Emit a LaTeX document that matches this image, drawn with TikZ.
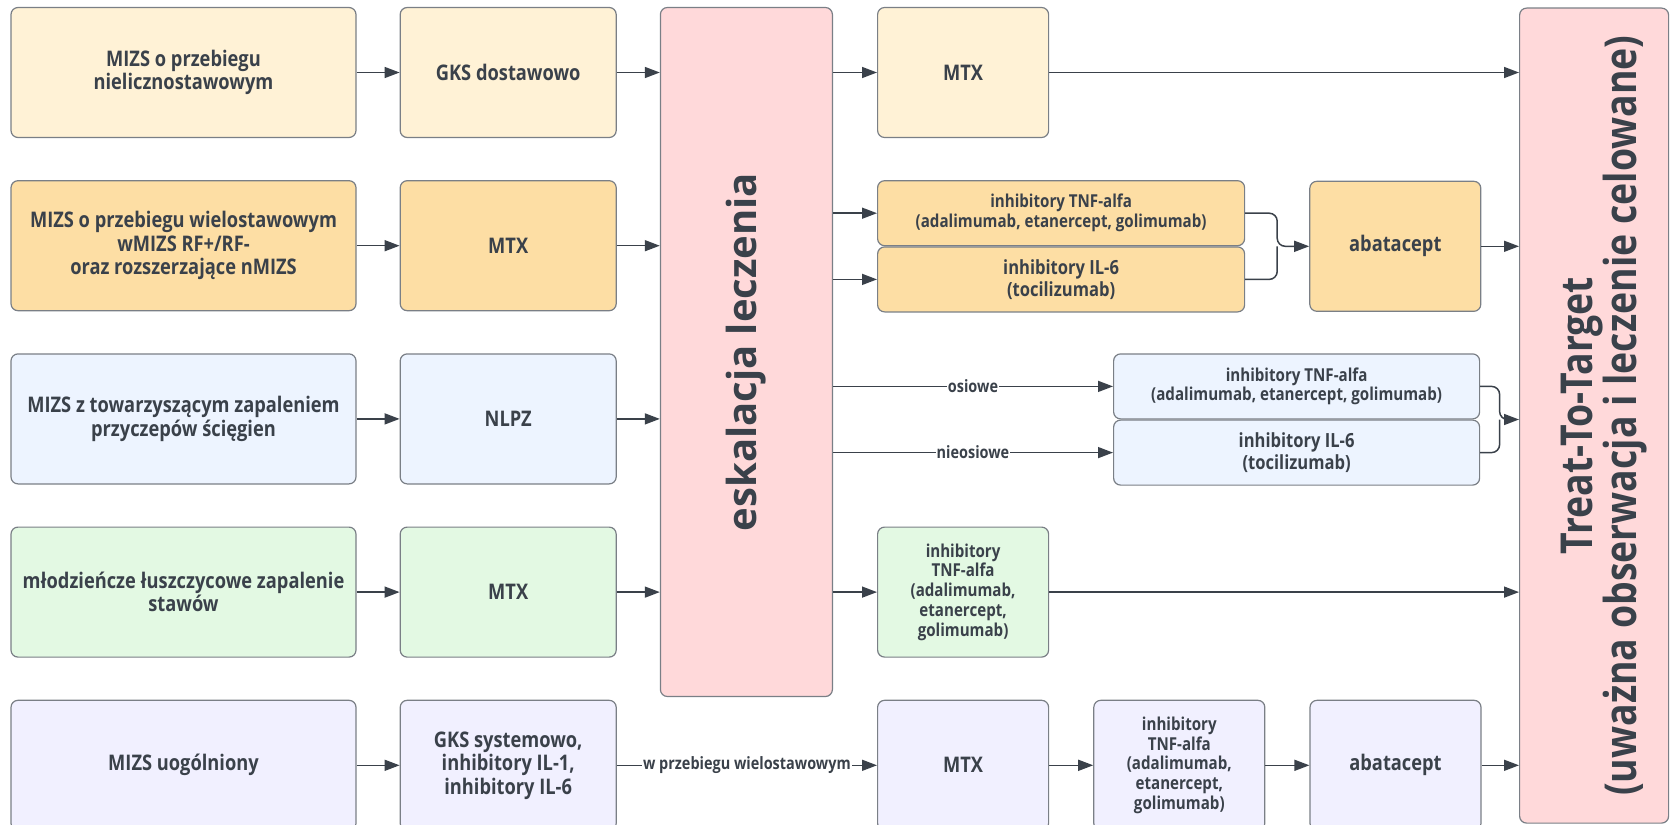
\documentclass[tikz,border=0pt]{standalone}
\usepackage{fontspec}
\setmainfont{Open Sans}[FakeStretch=0.85]
\newfontfamily\wideface{Open Sans}
\usetikzlibrary{arrows.meta,calc,positioning}
\definecolor{ink}{HTML}{3A414A}
\definecolor{edge}{HTML}{7A7F86}
\definecolor{creme}{HTML}{FFF2D6}
\definecolor{orng}{HTML}{FDDEA4}
\definecolor{lblue}{HTML}{EDF4FF}
\definecolor{lgreen}{HTML}{E3F9E3}
\definecolor{lilac}{HTML}{F1F0FF}
\definecolor{pink}{HTML}{FFD9DA}
\tikzstyle{box}=[rectangle,rounded corners=7pt,draw=edge,line width=1.2pt,text=ink,align=center,inner sep=3pt,minimum height=130pt,font=\bfseries\fontsize{21.5}{23.5}\selectfont]
\tikzstyle{sm}=[font=\bfseries\fontsize{17.8}{19.8}\selectfont]
\tikzstyle{md}=[font=\bfseries\fontsize{19.5}{22}\selectfont]
\tikzstyle{yb}=[box,fill=creme]
\tikzstyle{ob}=[box,fill=orng]
\tikzstyle{bb}=[box,fill=lblue]
\tikzstyle{gb}=[box,fill=lgreen]
\tikzstyle{vb}=[box,fill=lilac]
\tikzstyle{rb}=[box,fill=pink]
\tikzstyle{ln}=[line width=1.5pt,draw=ink]
\tikzstyle{arr}=[ln,-{Triangle[length=15pt,width=11pt]}]
\tikzstyle{lbl}=[fill=white,inner sep=1pt,text=ink,font=\bfseries\fontsize{17}{19}\selectfont]

\begin{document}
\begin{tikzpicture}[x=1pt,y=1pt]
    \useasboundingbox (0,0) rectangle (1677,-824);
    % row 1
    \node (olig) [yb,minimum width=345pt] at (183.5,-72.5) {MIZS o przebiegu\\nielicznostawowym};
    \node (gksd) [yb,minimum width=216pt,right=43pt of olig] {GKS dostawowo};
    \node (esk) [rb,minimum width=172pt,minimum height=689pt,anchor=north west] at ($(gksd.north east)+(43,0)$) {};
    \node (eskt) [rotate=90,text=ink,font=\wideface\bfseries\fontsize{40}{44}\selectfont] at (esk.center) {eskalacja leczenia};
    \node (mtxa) [yb,minimum width=171pt,anchor=west] at ($(gksd.east -| esk.east)+(44,0)$) {MTX};
    \node (t2t) [rb,minimum width=149pt,minimum height=815pt,anchor=north west] at (1519,-7.5) {};
    \node (t2tt) [rotate=90,text=ink,align=center,font=\bfseries\fontsize{44}{44}\selectfont] at ($(t2t.center)+(10,0)$) {Treat-To-Target\\(uważna obserwacja i leczenie celowane)};
    % row 2
    \node (poly) [ob,minimum width=345pt,below=42pt of olig] {MIZS o przebiegu wielostawowym\\wMIZS RF+/RF-\\oraz rozszerzające nMIZS};
    \node (mtxb) [ob,minimum width=216pt,below=42pt of gksd] {MTX};
    \node (tnfb) [ob,sm,minimum width=367pt,minimum height=65pt,anchor=north west] at ($(poly.north -| esk.east)+(44,0)$) {inhibitory TNF-alfa\\(adalimumab, etanercept, golimumab)};
    \node (ilb) [ob,md,minimum width=367pt,minimum height=65pt,below=0pt of tnfb] {inhibitory IL-6\\(tocilizumab)};
    \node (abab) [ob,minimum width=171pt,anchor=west] at ($(tnfb.south east)+(64,0)$) {abatacept};
    % row 3
    \node (ent) [bb,minimum width=345pt,below=42pt of poly] {MIZS z towarzyszącym zapaleniem\\przyczepów ścięgien};
    \node (nlpz) [bb,minimum width=216pt,below=42pt of mtxb] {NLPZ};
    \node (tnfc) [bb,sm,minimum width=366pt,minimum height=65pt,anchor=north west] at ($(ent.north -| esk.east)+(280,0)$) {inhibitory TNF-alfa\\(adalimumab, etanercept, golimumab)};
    \node (ilc) [bb,md,minimum width=366pt,minimum height=65pt,below=0pt of tnfc] {inhibitory IL-6\\(tocilizumab)};
    % row 4
    \node (psor) [gb,minimum width=345pt,below=42pt of ent] {młodzieńcze łuszczycowe zapalenie\\stawów};
    \node (mtxd) [gb,minimum width=216pt,below=42pt of nlpz] {MTX};
    \node (tnfd) [gb,sm,minimum width=171pt,anchor=west] at ($(mtxd.east -| esk.east)+(44,0)$) {inhibitory\\TNF-alfa\\(adalimumab,\\etanercept,\\golimumab)};
    % row 5
    \node (sys) [vb,minimum width=345pt,below=42pt of psor] {MIZS uogólniony};
    \node (gkss) [vb,minimum width=216pt,below=42pt of mtxd] {GKS systemowo,\\inhibitory IL-1,\\inhibitory IL-6};
    \node (mtxe) [vb,minimum width=171pt,anchor=west] at ($(gkss.east -| esk.east)+(44,0)$) {MTX};
    \node (tnfe) [vb,sm,minimum width=171pt,right=44pt of mtxe] {inhibitory\\TNF-alfa\\(adalimumab,\\etanercept,\\golimumab)};
    \node (abae) [vb,minimum width=171pt,right=44pt of tnfe] {abatacept};

    \draw[arr] (olig) -- (gksd);
    \draw[arr] (gksd.east) -- (gksd.east -| esk.west);
    \draw[arr] (mtxa.east -| esk.east) -- (mtxa.west);
    \draw[arr] (mtxa.east) -- (mtxa.east -| t2t.west);

    \draw[arr] (poly) -- (mtxb);
    \draw[arr] (mtxb.east) -- (mtxb.east -| esk.west);
    \draw[arr] (tnfb.west -| esk.east) -- (tnfb.west);
    \draw[arr] (ilb.west -| esk.east) -- (ilb.west);
    \coordinate (jb) at ($(tnfb.south east)!.5!(abab.west)$);
    \draw[arr,rounded corners=8pt] (tnfb.east) -| (jb) -- (abab.west);
    \draw[ln,rounded corners=8pt] (ilb.east) -| (jb);
    \draw[arr] (abab.east) -- (abab.east -| t2t.west);

    \draw[arr] (ent) -- (nlpz);
    \draw[arr] (nlpz.east) -- (nlpz.east -| esk.west);
    \draw[arr] (tnfc.west -| esk.east) -- node[lbl] {osiowe} (tnfc.west);
    \draw[arr] (ilc.west -| esk.east) -- node[lbl] {nieosiowe} (ilc.west);
    \coordinate (jc) at ($(tnfc.south east)!.5!(tnfc.south -| t2t.west)$);
    \draw[arr,rounded corners=8pt] (tnfc.east) -| (jc) -- (jc -| t2t.west);
    \draw[ln,rounded corners=8pt] (ilc.east) -| (jc);

    \draw[arr] (psor) -- (mtxd);
    \draw[arr] (mtxd.east) -- (mtxd.east -| esk.west);
    \draw[arr] (tnfd.west -| esk.east) -- (tnfd.west);
    \draw[arr] (tnfd.east) -- (tnfd.east -| t2t.west);

    \draw[arr] (sys) -- (gkss);
    \draw[arr] (gkss) -- node[lbl] {w przebiegu wielostawowym} (mtxe);
    \draw[arr] (mtxe) -- (tnfe);
    \draw[arr] (tnfe) -- (abae);
    \draw[arr] (abae.east) -- (abae.east -| t2t.west);
\end{tikzpicture}
\end{document}
